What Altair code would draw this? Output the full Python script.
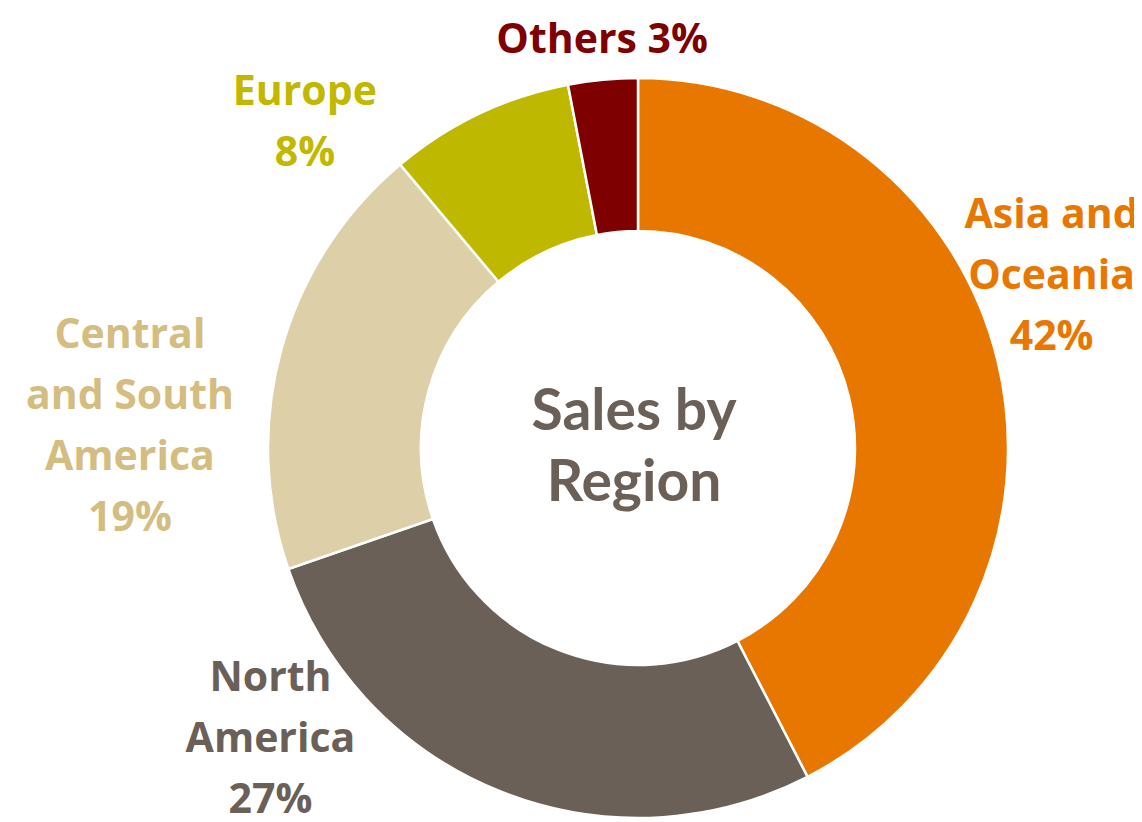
import altair as alt
import pandas as pd

# ---- data ----
regions = ["Asia and Oceania", "North America", "Central and South America", "Europe", "Others"]
label_names = ["Asia and\nOceania", "North\nAmerica", "Central\nand South\nAmerica", "Europe", "Others"]
shares = [42, 27, 19, 8, 3]
slice_colors = ["#E87700", "#6A6057", "#DDD0A8", "#BFB800", "#7F0000"]
label_colors = ["#E87700", "#6A6057", "#D3BD80", "#C2B800", "#7F0000"]
center_title = "Sales by\nRegion"

total = sum(shares)
rows = []
cum = 0
for i, (r, n, v) in enumerate(zip(regions, label_names, shares)):
    sep = " " if r == "Others" else "\n"
    rows.append({"idx": i, "region": r, "value": v, "mid": cum + v / 2,
                 "label": f"{n}{sep}{v}%"})
    cum += v
df = pd.DataFrame(rows)

CX, CY = 630, 440
R_OUT, R_IN = 370, 217
LABEL_R = 440

theta_scale = alt.Scale(domain=[0, total])
color_scale = alt.Scale(domain=regions, range=slice_colors)

arcs = alt.Chart(df).mark_arc(
    outerRadius=R_OUT, innerRadius=R_IN, stroke="white", strokeWidth=2.5
).encode(
    theta=alt.Theta("value:Q", stack=True, scale=theta_scale),
    order=alt.Order("idx:Q"),
    color=alt.Color("region:N", scale=color_scale, legend=None),
    x=alt.value(CX),
    y=alt.value(CY),
)

# per-label nudges (label placement styling)
nudges = {
    "Asia and Oceania": (-14, -128),
    "North America": (-204, -177),
    "Central and South America": (-84, 5),
    "Europe": (-144, 42),
    "Others": (6, 31),
}

label_layers = []
for r, c in zip(regions, label_colors):
    dx, dy = nudges[r]
    label_layers.append(
        alt.Chart(df).transform_filter(alt.datum.region == r).mark_text(
            radius=LABEL_R, dx=dx, dy=dy, align="center", baseline="middle",
            font="Open Sans", fontWeight="bold", fontSize=41, lineHeight=61,
            lineBreak="\n", color=c,
        ).encode(
            theta=alt.Theta("mid:Q", scale=theta_scale),
            text="label:N",
            x=alt.value(CX),
            y=alt.value(CY),
        )
    )

center = alt.Chart(pd.DataFrame({"t": [center_title]})).mark_text(
    align="center", baseline="middle", font="Lato", fontWeight="bold",
    fontSize=57, lineHeight=71, lineBreak="\n", color="#6A6057", dx=-4, dy=-35,
).encode(text="t:N", x=alt.value(CX), y=alt.value(CY))

chart = alt.layer(arcs, *label_layers, center).properties(
    width=1126, height=814, padding=0, autosize="none"
).configure_view(stroke=None)

chart.save("out.html", embed_options={"renderer": "svg", "actions": False})
